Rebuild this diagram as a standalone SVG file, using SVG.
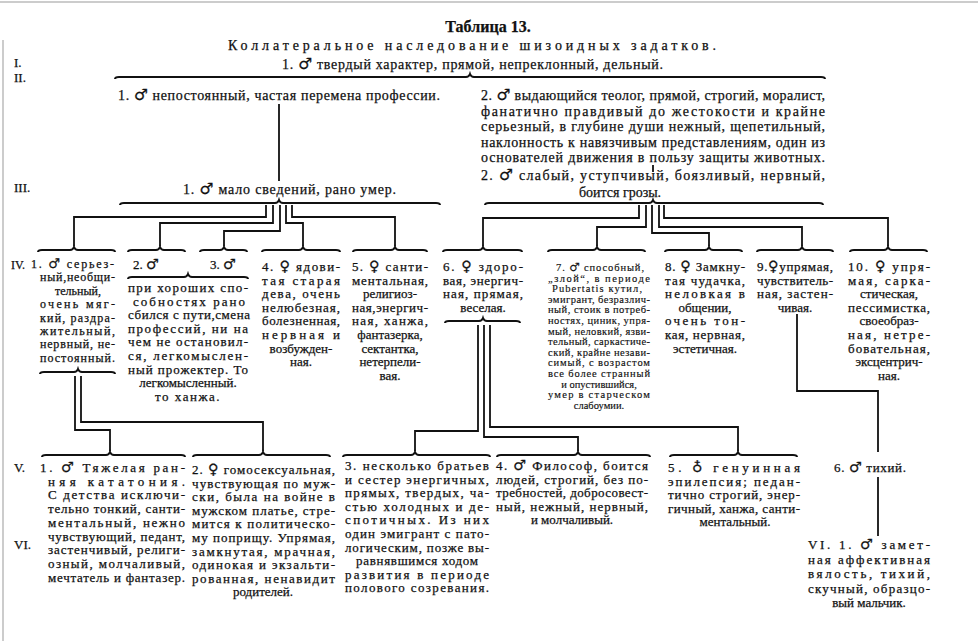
<svg xmlns="http://www.w3.org/2000/svg" width="978" height="641" viewBox="0 0 978 641">
<style>
text{font-family:"Liberation Serif","DejaVu Serif",serif;fill:#111;font-size:14px;stroke:#111;stroke-width:0.25}
.ti{font-size:16px;font-weight:bold}
.m{text-anchor:middle}
.f{font-size:13px}
.f2{font-size:12px}
.s{font-size:10.5px;stroke-width:0.15}
.g{font-family:"DejaVu Sans",sans-serif;font-size:1.1em}
.br{fill:none;stroke:#111;stroke-width:2}
.cn{fill:none;stroke:#111;stroke-width:1.8}
.pg{stroke:#bbb;stroke-width:1.5}
</style>
<rect width="978" height="641" fill="#fff"/>
<line class="pg" x1="0" y1="2" x2="978" y2="2"/>
<line class="pg" x1="3" y1="40" x2="3" y2="641"/>

<g id="header">
<text class="ti m" x="488" y="32">Таблица 13.</text>
<text x="228" y="50" textLength="488" lengthAdjust="spacing">Коллатеральное наследование шизоидных задатков.</text>
<text class="f" x="14" y="67">I.</text>
<text class="f" x="14" y="82">II.</text>
<text class="f" x="14" y="192">III.</text>
<text class="f2" x="11" y="269">IV.</text>
<text class="f" x="14" y="472">V.</text>
<text class="f" x="14" y="549">VI.</text>
</g>

<g id="I1"><text x="282" y="69" textLength="381" lengthAdjust="spacing">1. <tspan class="g">♂</tspan> твердый характер, прямой, непреклонный, дельный.</text></g>

<g id="II1"><text x="118" y="100" textLength="322" lengthAdjust="spacing">1. <tspan class="g">♂</tspan> непостоянный, частая перемена профессии.</text></g>

<g id="II2">
<text x="481" y="100" textLength="344" lengthAdjust="spacing">2. <tspan class="g">♂</tspan> выдающийся теолог, прямой, строгий, моралист,</text>
<text x="481" y="115.5" textLength="344" lengthAdjust="spacing">фанатично правдивый до жестокости и крайне</text>
<text x="481" y="131" textLength="344" lengthAdjust="spacing">серьезный, в глубине души нежный, щепетильный,</text>
<text x="481" y="146.5" textLength="344" lengthAdjust="spacing">наклонность к навязчивым представлениям, один из</text>
<text x="481" y="162" textLength="344" lengthAdjust="spacing">основателей движения в пользу защиты животных.</text>
</g>

<g id="III1"><text x="183" y="194" textLength="213" lengthAdjust="spacing">1. <tspan class="g">♂</tspan> мало сведений, рано умер.</text></g>

<g id="III2">
<text x="481" y="180" textLength="344" lengthAdjust="spacing">2. <tspan class="g">♂</tspan> слабый, уступчивый, боязливый, нервный,</text>
<text class="m" x="620" y="197">боится грозы.</text>
</g>

<g id="IV1">
<text class="f2" x="31" y="268" textLength="83" lengthAdjust="spacing">1. <tspan class="g">♂</tspan> серьез-</text>
<text class="f2" x="40" y="281.4" textLength="75" lengthAdjust="spacing">ный,необщи-</text>
<text class="f2 m" x="78" y="294.8">тельный,</text>
<text class="f2" x="40" y="308.2" textLength="75" lengthAdjust="spacing">очень мяг-</text>
<text class="f2" x="40" y="321.6" textLength="75" lengthAdjust="spacing">кий, раздра-</text>
<text class="f2" x="40" y="335" textLength="75" lengthAdjust="spacing">жительный,</text>
<text class="f2" x="40" y="348.4" textLength="75" lengthAdjust="spacing">нервный, не-</text>
<text class="f2" x="40" y="361.8" textLength="75" lengthAdjust="spacing">постоянный.</text>
</g>

<g id="IV2-3">
<text class="f" x="133" y="269">2. <tspan class="g">♂</tspan></text>
<text class="f" x="210" y="269">3. <tspan class="g">♂</tspan></text>
<text class="f" x="128" y="292" textLength="120" lengthAdjust="spacing">при хороших спо-</text>
<text class="f" x="133" y="305.6" textLength="112" lengthAdjust="spacing">собностях рано</text>
<text class="f" x="128" y="319.2" textLength="122" lengthAdjust="spacing">сбился с пути,смена</text>
<text class="f" x="128" y="332.8" textLength="120" lengthAdjust="spacing">профессий, ни на</text>
<text class="f" x="128" y="346.4" textLength="120" lengthAdjust="spacing">чем не остановил-</text>
<text class="f" x="128" y="360" textLength="120" lengthAdjust="spacing">ся, легкомыслен-</text>
<text class="f" x="128" y="373.6" textLength="120" lengthAdjust="spacing">ный прожектер. То</text>
<text class="f m" x="188" y="387.2">легкомысленный.</text>
<text class="f m" x="188" y="400.8" letter-spacing="1.5">то ханжа.</text>
</g>

<g id="IV4">
<text class="f" x="262" y="271" textLength="78" lengthAdjust="spacing">4. <tspan class="g">♀</tspan> ядови-</text>
<text class="f" x="262" y="284.6" textLength="78" lengthAdjust="spacing">тая старая</text>
<text class="f" x="262" y="298.2" textLength="78" lengthAdjust="spacing">дева, очень</text>
<text class="f" x="262" y="311.8" textLength="78" lengthAdjust="spacing">нелюбезная,</text>
<text class="f" x="262" y="325.4" textLength="78" lengthAdjust="spacing">болезненная,</text>
<text class="f" x="262" y="339" textLength="78" lengthAdjust="spacing">нервная и</text>
<text class="f m" x="301" y="352.6">возбужден-</text>
<text class="f m" x="301" y="366.2">ная.</text>
</g>

<g id="IV5">
<text class="f" x="352" y="271" textLength="76" lengthAdjust="spacing">5. <tspan class="g">♀</tspan> санти-</text>
<text class="f" x="352" y="284.6" textLength="76" lengthAdjust="spacing">ментальная,</text>
<text class="f m" x="390" y="298.2">религиоз-</text>
<text class="f" x="352" y="311.8" textLength="76" lengthAdjust="spacing">ная,энергич-</text>
<text class="f" x="352" y="325.4" textLength="76" lengthAdjust="spacing">ная, ханжа,</text>
<text class="f m" x="390" y="339">фантазерка,</text>
<text class="f m" x="390" y="352.6">сектантка,</text>
<text class="f m" x="390" y="366.2">нетерпели-</text>
<text class="f m" x="390" y="379.8">вая.</text>
</g>

<g id="IV6">
<text class="f" x="443" y="271" textLength="80" lengthAdjust="spacing">6. <tspan class="g">♀</tspan> здоро-</text>
<text class="f" x="443" y="284.6" textLength="80" lengthAdjust="spacing">вая, энергич-</text>
<text class="f" x="443" y="298.2" textLength="80" lengthAdjust="spacing">ная, прямая,</text>
<text class="f m" x="483" y="311.8">веселая.</text>
</g>

<g id="IV7">
<text class="s" x="556" y="271" textLength="88" lengthAdjust="spacing">7. <tspan class="g">♂</tspan> способный,</text>
<text class="s" x="548" y="281.6" textLength="102" lengthAdjust="spacing">„злой“, в периоде</text>
<text class="s" x="552" y="292.2" textLength="90" lengthAdjust="spacing">Pubertatis кутил,</text>
<text class="s" x="548" y="302.8" textLength="102" lengthAdjust="spacing">эмигрант, безразлич-</text>
<text class="s" x="548" y="313.4" textLength="102" lengthAdjust="spacing">ный, стоик в потреб-</text>
<text class="s" x="548" y="324" textLength="102" lengthAdjust="spacing">ностях, циник, упря-</text>
<text class="s" x="548" y="334.6" textLength="102" lengthAdjust="spacing">мый, неловкий, язви-</text>
<text class="s" x="548" y="345.2" textLength="102" lengthAdjust="spacing">тельный, саркастиче-</text>
<text class="s" x="548" y="355.8" textLength="102" lengthAdjust="spacing">ский, крайне незави-</text>
<text class="s" x="548" y="366.4" textLength="102" lengthAdjust="spacing">симый, с возрастом</text>
<text class="s" x="548" y="377" textLength="102" lengthAdjust="spacing">все более странный</text>
<text class="s m" x="599" y="387.6">и опустившийся,</text>
<text class="s" x="548" y="398.2" textLength="102" lengthAdjust="spacing">умер в старческом</text>
<text class="s m" x="599" y="408.8">слабоумии.</text>
</g>

<g id="IV8">
<text class="f" x="665" y="271" textLength="80" lengthAdjust="spacing">8. <tspan class="g">♀</tspan> Замкну-</text>
<text class="f" x="665" y="284.6" textLength="80" lengthAdjust="spacing">тая чудачка,</text>
<text class="f" x="665" y="298.2" textLength="80" lengthAdjust="spacing">неловкая в</text>
<text class="f m" x="705" y="311.8">общении,</text>
<text class="f" x="665" y="325.4" textLength="80" lengthAdjust="spacing">очень тон-</text>
<text class="f" x="665" y="339" textLength="80" lengthAdjust="spacing">кая, нервная,</text>
<text class="f m" x="705" y="352.6">эстетичная.</text>
</g>

<g id="IV9">
<text class="f" x="757" y="271" textLength="76" lengthAdjust="spacing">9.<tspan class="g">♀</tspan>упрямая,</text>
<text class="f" x="757" y="284.6" textLength="76" lengthAdjust="spacing">чувствитель-</text>
<text class="f" x="757" y="298.2" textLength="76" lengthAdjust="spacing">ная, застен-</text>
<text class="f m" x="795" y="311.8">чивая.</text>
</g>

<g id="IV10">
<text class="f" x="848" y="271" textLength="82" lengthAdjust="spacing">10. <tspan class="g">♀</tspan> упря-</text>
<text class="f" x="848" y="284.6" textLength="82" lengthAdjust="spacing">мая, сарка-</text>
<text class="f m" x="889" y="298.2">стическая,</text>
<text class="f" x="848" y="311.8" textLength="82" lengthAdjust="spacing">пессимистка,</text>
<text class="f m" x="889" y="325.4">своеобраз-</text>
<text class="f" x="848" y="339" textLength="82" lengthAdjust="spacing">ная, нетре-</text>
<text class="f" x="848" y="352.6" textLength="82" lengthAdjust="spacing">бовательная,</text>
<text class="f m" x="889" y="366.2">эксцентрич-</text>
<text class="f m" x="889" y="379.8">ная.</text>
</g>

<g id="V1">
<text class="f" x="40" y="472" textLength="145" lengthAdjust="spacing">1. <tspan class="g">♂</tspan> Тяжелая ран-</text>
<text class="f" x="48" y="485.7" textLength="137" lengthAdjust="spacing">няя кататония.</text>
<text class="f" x="48" y="499.4" textLength="137" lengthAdjust="spacing">С детства исключи-</text>
<text class="f" x="48" y="513.1" textLength="137" lengthAdjust="spacing">тельно тонкий, санти-</text>
<text class="f" x="48" y="526.8" textLength="137" lengthAdjust="spacing">ментальный, нежно</text>
<text class="f" x="48" y="540.5" textLength="137" lengthAdjust="spacing">чувствующий, педант,</text>
<text class="f" x="48" y="554.2" textLength="137" lengthAdjust="spacing">застенчивый, религи-</text>
<text class="f" x="48" y="567.9" textLength="137" lengthAdjust="spacing">озный, молчаливый,</text>
<text class="f" x="48" y="581.6" textLength="137" lengthAdjust="spacing">мечтатель и фантазер.</text>
</g>

<g id="V2">
<text class="f" x="192" y="474" textLength="143" lengthAdjust="spacing">2. <tspan class="g">♀</tspan> гомосексуальная,</text>
<text class="f" x="192" y="487.6" textLength="143" lengthAdjust="spacing">чувствующая по муж-</text>
<text class="f" x="192" y="501.2" textLength="143" lengthAdjust="spacing">ски, была на войне в</text>
<text class="f" x="192" y="514.8" textLength="143" lengthAdjust="spacing">мужском платье, стре-</text>
<text class="f" x="192" y="528.4" textLength="143" lengthAdjust="spacing">мится к политическо-</text>
<text class="f" x="192" y="542" textLength="143" lengthAdjust="spacing">му поприщу. Упрямая,</text>
<text class="f" x="192" y="555.6" textLength="143" lengthAdjust="spacing">замкнутая, мрачная,</text>
<text class="f" x="192" y="569.2" textLength="143" lengthAdjust="spacing">одинокая и экзальти-</text>
<text class="f" x="192" y="582.8" textLength="143" lengthAdjust="spacing">рованная, ненавидит</text>
<text class="f m" x="263" y="596.4">родителей.</text>
</g>

<g id="V3">
<text class="f" x="345" y="470" textLength="144" lengthAdjust="spacing">3. несколько братьев</text>
<text class="f" x="345" y="483.6" textLength="144" lengthAdjust="spacing">и сестер энергичных,</text>
<text class="f" x="345" y="497.2" textLength="144" lengthAdjust="spacing">прямых, твердых, ча-</text>
<text class="f" x="345" y="510.8" textLength="144" lengthAdjust="spacing">стью холодных и де-</text>
<text class="f" x="345" y="524.4" textLength="144" lengthAdjust="spacing">спотичных. Из них</text>
<text class="f" x="345" y="538" textLength="144" lengthAdjust="spacing">один эмигрант с пато-</text>
<text class="f" x="345" y="551.6" textLength="144" lengthAdjust="spacing">логическим, позже вы-</text>
<text class="f" x="356" y="565.2" textLength="122" lengthAdjust="spacing">равнявшимся ходом</text>
<text class="f" x="345" y="578.8" textLength="144" lengthAdjust="spacing">развития в периоде</text>
<text class="f" x="345" y="592.4" textLength="144" lengthAdjust="spacing">полового созревания.</text>
</g>

<g id="V4">
<text class="f" x="496" y="470" textLength="152" lengthAdjust="spacing">4. <tspan class="g">♂</tspan> Философ, боится</text>
<text class="f" x="496" y="483.6" textLength="152" lengthAdjust="spacing">людей, строгий, без по-</text>
<text class="f" x="496" y="497.2" textLength="152" lengthAdjust="spacing">требностей, добросовест-</text>
<text class="f" x="496" y="510.8" textLength="152" lengthAdjust="spacing">ный, нежный, нервный,</text>
<text class="f m" x="572" y="524.4">и молчаливый.</text>
</g>

<g id="V5">
<text class="f" x="668" y="472" textLength="132" lengthAdjust="spacing">5. <tspan class="g">♁</tspan> генуинная</text>
<text class="f" x="668" y="485.6" textLength="132" lengthAdjust="spacing">эпилепсия; педан-</text>
<text class="f" x="668" y="499.2" textLength="132" lengthAdjust="spacing">тично строгий, энер-</text>
<text class="f" x="668" y="512.8" textLength="132" lengthAdjust="spacing">гичный, ханжа, санти-</text>
<text class="f m" x="735" y="526.4">ментальный.</text>
</g>

<g id="V6"><text class="f" x="834" y="472" textLength="72" lengthAdjust="spacing">6. <tspan class="g">♂</tspan> тихий.</text></g>

<g id="VI1">
<text class="f" x="808" y="549" textLength="122" lengthAdjust="spacing">VI. 1. <tspan class="g">♂</tspan> замет-</text>
<text class="f" x="808" y="563.5" textLength="122" lengthAdjust="spacing">ная аффективная</text>
<text class="f" x="808" y="578" textLength="122" lengthAdjust="spacing">вялость, тихий,</text>
<text class="f" x="808" y="592.5" textLength="122" lengthAdjust="spacing">скучный, образцо-</text>
<text class="f m" x="869" y="607">вый мальчик.</text>
</g>

<g id="connectors">
<path class="br" d="M115 79 Q115 77 119 77 L466 77 Q469 77 470 74 Q471 77 474 77 L821 77 Q825 77 825 79"/>
<path class="br" d="M120 205 Q120 203 124 203 L275 203 Q278 203 279 200 Q280 203 283 203 L436 203 Q440 203 440 205"/>
<path class="br" d="M485 205 Q485 203 489 203 L649 203 Q652 203 653 200 Q654 203 657 203 L819 203 Q823 203 823 205"/>
<g id="iv-braces">
<path class="br" d="M38 252 Q38 250 42 250 L70 250 Q73 250 74 247 Q75 250 78 250 L111 250 Q115 250 115 252"/>
<path class="br" d="M128 252 Q128 250 132 250 L156 250 Q159 250 160 247 Q161 250 164 250 L181 250 Q185 250 185 252"/>
<path class="br" d="M200 252 Q200 250 204 250 L220 250 Q223 250 224 247 Q225 250 228 250 L243 250 Q247 250 247 252"/>
<path class="br" d="M262 252 Q262 250 266 250 L299 250 Q302 250 303 247 Q304 250 307 250 L336 250 Q340 250 340 252"/>
<path class="br" d="M353 252 Q353 250 357 250 L391 250 Q394 250 395 247 Q396 250 399 250 L423 250 Q427 250 427 252"/>
<path class="br" d="M443 252 Q443 250 447 250 L479 250 Q482 250 483 247 Q484 250 487 250 L518 250 Q522 250 522 252"/>
<path class="br" d="M548 252 Q548 250 552 250 L593 250 Q596 250 597 247 Q598 250 601 250 L641 250 Q645 250 645 252"/>
<path class="br" d="M665 252 Q665 250 669 250 L705 250 Q708 250 709 247 Q710 250 713 250 L738 250 Q742 250 742 252"/>
<path class="br" d="M757 252 Q757 250 761 250 L798 250 Q801 250 802 247 Q803 250 806 250 L829 250 Q833 250 833 252"/>
<path class="br" d="M850 252 Q850 250 854 250 L884 250 Q887 250 888 247 Q889 250 892 250 L923 250 Q927 250 927 252"/>
<path class="br" d="M128 279 Q128 277 132 277 L184 277 Q187 277 188 274 Q189 277 192 277 L244 277 Q248 277 248 279"/>
<path class="br" d="M40 374 Q40 372 44 372 L74 372 Q77 372 78 369 Q79 372 82 372 L111 372 Q115 372 115 374"/>
<path class="br" d="M445 323 Q445 321 449 321 L479 321 Q482 321 483 318 Q484 321 487 321 L516 321 Q520 321 520 323"/>
</g>
<g id="v-braces">
<path class="br" d="M42 457 Q42 455 46 455 L106 455 Q109 455 110 452 Q111 455 114 455 L181 455 Q185 455 185 457"/>
<path class="br" d="M193 457 Q193 455 197 455 L259 455 Q262 455 263 452 Q264 455 267 455 L326 455 Q330 455 330 457"/>
<path class="br" d="M343 457 Q343 455 347 455 L411 455 Q414 455 415 452 Q416 455 419 455 L486 455 Q490 455 490 457"/>
<path class="br" d="M497 457 Q497 455 501 455 L574 455 Q577 455 578 452 Q579 455 582 455 L646 455 Q650 455 650 457"/>
<path class="br" d="M670 457 Q670 455 674 455 L734 455 Q737 455 738 452 Q739 455 742 455 L793 455 Q797 455 797 457"/>
</g>
<path class="cn" d="M279 104 V181"/>
<path class="cn" d="M653 165 V172"/>
<path class="cn" d="M266 205 V217 H74 V246"/>
<path class="cn" d="M273 205 V223 H160 V246"/>
<path class="cn" d="M280 205 V231 H224 V246"/>
<path class="cn" d="M286 205 V223 H303 V246"/>
<path class="cn" d="M292 205 V217 H395 V246"/>
<path class="cn" d="M639 205 V218 H483 V246"/>
<path class="cn" d="M646 205 V227 H597 V246"/>
<path class="cn" d="M652 205 V233 H709 V246"/>
<path class="cn" d="M659 205 V227 H802 V246"/>
<path class="cn" d="M664 205 V218 H888 V246"/>
<path class="cn" d="M75 376 V430 H110 V451"/>
<path class="cn" d="M81 376 V422 H263 V451"/>
<path class="cn" d="M478 325 V431 H415 V451"/>
<path class="cn" d="M484 325 V437 H578 V451"/>
<path class="cn" d="M490 325 V427 H738 V451"/>
<path class="cn" d="M797 314 V391 H878 V452"/>
<path class="cn" d="M878 477 V536"/>
</g>
</svg>
